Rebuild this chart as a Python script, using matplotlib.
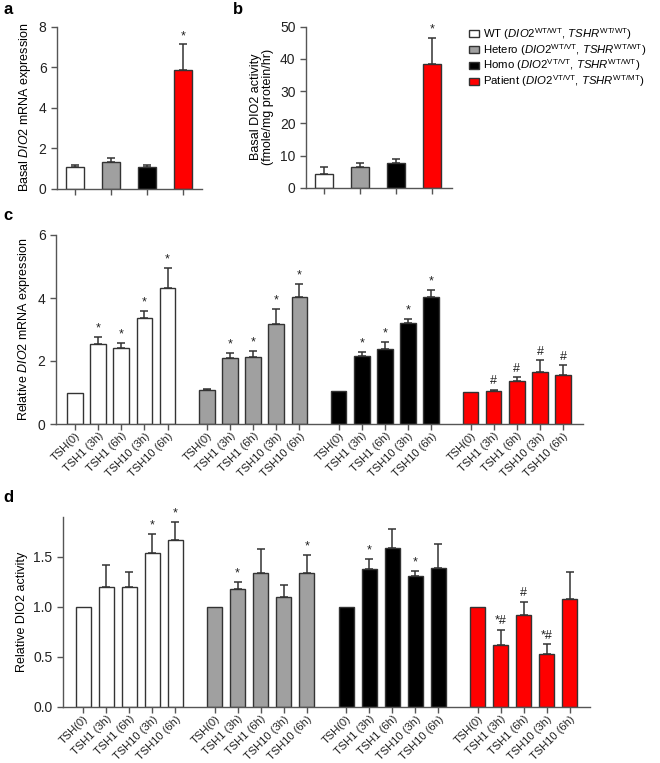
import numpy as np
import matplotlib
matplotlib.use('Agg')
import matplotlib.pyplot as plt
from matplotlib.patches import Patch

plt.rcParams['font.family'] = ['Liberation Sans', 'DejaVu Sans']
plt.rcParams['mathtext.fontset'] = 'custom'
plt.rcParams['mathtext.rm'] = 'Liberation Sans'
plt.rcParams['mathtext.it'] = 'Liberation Sans:italic'
plt.rcParams['mathtext.bf'] = 'Liberation Sans:bold'

# groups and colours
groups = ['WT', 'Hetero', 'Homo', 'Patient']
colors = ['white', '#a0a0a0', 'black', '#ff0000']
legend_labels = [
    r'WT ($\mathit{DIO2}^{\mathrm{WT/WT}}$, $\mathit{TSHR}^{\mathrm{WT/WT}}$)',
    r'Hetero ($\mathit{DIO2}^{\mathrm{WT/VT}}$, $\mathit{TSHR}^{\mathrm{WT/WT}}$)',
    r'Homo ($\mathit{DIO2}^{\mathrm{VT/VT}}$, $\mathit{TSHR}^{\mathrm{WT/WT}}$)',
    r'Patient ($\mathit{DIO2}^{\mathrm{VT/VT}}$, $\mathit{TSHR}^{\mathrm{WT/MT}}$)',
]
conditions = ['TSH(0)', 'TSH1 (3h)', 'TSH1 (6h)', 'TSH10 (3h)', 'TSH10 (6h)']

# panel a: basal mRNA
a_mean = [1.05, 1.31, 1.05, 5.84]
a_err = [0.13, 0.19, 0.12, 1.29]
a_mark = ['', '', '', '*']

# panel b: basal activity
b_mean = [4.2, 6.5, 7.8, 38.5]
b_err = [2.3, 1.2, 1.1, 8.1]
b_mark = ['', '', '', '*']

# panel c: relative mRNA (rows = groups)
c_mean = [[1.0, 2.54, 2.42, 3.38, 4.31],
          [1.08, 2.11, 2.12, 3.18, 4.03],
          [1.04, 2.15, 2.39, 3.20, 4.02],
          [1.02, 1.06, 1.37, 1.66, 1.56]]
c_err = [[0.0, 0.21, 0.16, 0.22, 0.63],
         [0.02, 0.13, 0.19, 0.46, 0.42],
         [0.0, 0.13, 0.21, 0.13, 0.23],
         [0.0, 0.02, 0.11, 0.37, 0.30]]
c_mark = [['', '*', '*', '*', '*'],
          ['', '*', '*', '*', '*'],
          ['', '*', '*', '*', '*'],
          ['', '#', '#', '#', '#']]

# panel d: relative activity
d_mean = [[1.0, 1.197, 1.20, 1.537, 1.667],
          [1.0, 1.177, 1.343, 1.097, 1.337],
          [1.0, 1.38, 1.587, 1.313, 1.387],
          [1.0, 0.623, 0.92, 0.527, 1.077]]
d_err = [[0.0, 0.223, 0.15, 0.193, 0.183],
         [0.0, 0.07, 0.237, 0.123, 0.183],
         [0.0, 0.097, 0.19, 0.044, 0.246],
         [0.0, 0.147, 0.133, 0.10, 0.27]]
d_mark = [['', '', '', '*', '*'],
          ['', '*', '', '', '*'],
          ['', '*', '', '*', ''],
          ['', '*#', '#', '*#', '']]

W, H = 660, 763
fig = plt.figure(figsize=(6.6, 7.63), dpi=100)

AX_COL = '#555555'


def px_axes(l, r, t, b):
    return fig.add_axes([l / W, 1 - b / H, (r - l) / W, (b - t) / H])


def style(ax):
    for s in ['top', 'right']:
        ax.spines[s].set_visible(False)
    for s in ['left', 'bottom']:
        ax.spines[s].set_color(AX_COL)
        ax.spines[s].set_linewidth(1.0)
    ax.tick_params(colors=AX_COL, labelcolor='#222222', length=4, width=1.0,
                   labelsize=10)
    ax.tick_params(axis='x', pad=1)


def draw_bars(ax, x, mean, err, cols, marks, width, off):
    x = np.asarray(x)
    mean = np.asarray(mean)
    err = np.asarray(err)
    ax.bar(x, mean, width=width, color=cols, edgecolor='#333333', linewidth=1.0,
           zorder=2)
    has = err > 0
    if has.any():
        ax.errorbar(x[has], mean[has], yerr=[np.zeros(has.sum()), err[has]],
                    fmt='none', ecolor='#333333', elinewidth=1.1, capsize=3,
                    capthick=1.1, zorder=1)
    for xi, m, e, t in zip(x, mean, err, marks):
        if t:
            ax.text(xi, m + e + off, t, ha='center', va='bottom', fontsize=9,
                    color='#222222')


# panel a
ax = px_axes(57, 202, 26.7, 188.7)
style(ax)
xa = np.arange(4)
draw_bars(ax, xa, a_mean, a_err, colors, a_mark, 0.5, 0.1)
ax.set_xlim(-0.5, 3.53)
ax.set_ylim(0, 8)
ax.set_yticks([0, 2, 4, 6, 8])
ax.set_xticks(xa)
ax.set_xticklabels([])
ax.set_ylabel(r'Basal $\mathit{DIO2}$ mRNA expression', fontsize=9)

# panel b
ax = px_axes(306, 452, 26.7, 187.7)
style(ax)
draw_bars(ax, xa, b_mean, b_err, colors, b_mark, 0.5, 0.6)
ax.set_xlim(-0.5, 3.55)
ax.set_ylim(0, 50)
ax.set_yticks(np.arange(0, 51, 10))
ax.set_xticks(xa)
ax.set_xticklabels([])
ax.set_ylabel('Basal DIO2 activity\n(fmole/mg protein/hr)', fontsize=9,
              linespacing=1.0)

# legend
handles = [Patch(facecolor=c, edgecolor='#333333', linewidth=1.0) for c in colors]
fig.legend(handles, legend_labels, loc='upper left',
           bbox_to_anchor=(469 / W, 1 - 26 / H), frameon=False, fontsize=8.2,
           handlelength=0.9, handleheight=0.55, handletextpad=0.35,
           labelspacing=0.0, borderaxespad=0, borderpad=0)

# grouped x positions
gap = 5.7
pos = [g * gap + np.arange(5) for g in range(4)]
all_pos = np.concatenate(pos)
all_labels = conditions * 4

# panel c
ax = px_axes(56, 583, 235, 424)
style(ax)
for g in range(4):
    draw_bars(ax, pos[g], c_mean[g], c_err[g], [colors[g]] * 5, c_mark[g],
              0.67, 0.08)
ax.set_xlim(-0.82, 3 * gap + 4 + 0.86)
ax.set_ylim(0, 6)
ax.set_yticks([0, 2, 4, 6])
ax.set_xticks(all_pos)
ax.set_xticklabels(all_labels, rotation=45, ha='right', rotation_mode='anchor',
                   fontsize=8)
ax.set_ylabel(r'Relative $\mathit{DIO2}$ mRNA expression', fontsize=9)

# panel d
ax = px_axes(63, 590, 517, 707)
style(ax)
for g in range(4):
    draw_bars(ax, pos[g], d_mean[g], d_err[g], [colors[g]] * 5, d_mark[g],
              0.65, 0.025)
ax.set_xlim(-0.87, 3 * gap + 4 + 0.87)
ax.set_ylim(0, 1.9)
ax.set_yticks([0.0, 0.5, 1.0, 1.5])
ax.set_yticklabels(['0.0', '0.5', '1.0', '1.5'])
ax.set_xticks(all_pos)
ax.set_xticklabels(all_labels, rotation=45, ha='right', rotation_mode='anchor',
                   fontsize=8)
ax.set_ylabel('Relative DIO2 activity', fontsize=9)

# panel letters
for lab, x, y in [('a', 3, 10), ('b', 233, 10), ('c', 3, 215), ('d', 3, 498)]:
    fig.text(x / W, 1 - y / H, lab, fontsize=12, fontweight='bold',
             ha='left', va='center')

fig.savefig('out.png', dpi=100)
